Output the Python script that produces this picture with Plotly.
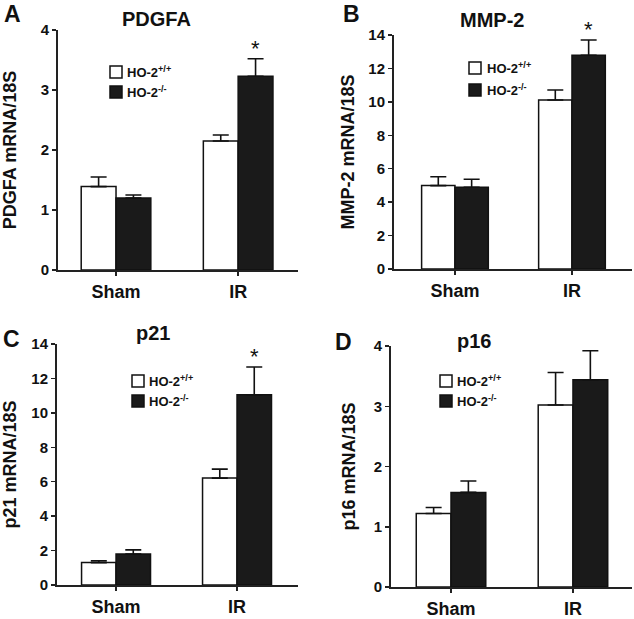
import plotly.graph_objects as go

W, H = 634, 619

categories = ["Sham", "IR"]

pdgfa_wt = [1.39, 2.15]
pdgfa_wt_err = [0.16, 0.10]
pdgfa_ko = [1.20, 3.23]
pdgfa_ko_err = [0.05, 0.29]

mmp2_wt = [4.99, 10.11]
mmp2_wt_err = [0.53, 0.60]
mmp2_ko = [4.89, 12.79]
mmp2_ko_err = [0.48, 0.91]

p21_wt = [1.30, 6.21]
p21_wt_err = [0.11, 0.52]
p21_ko = [1.80, 11.05]
p21_ko_err = [0.24, 1.61]

p16_wt = [1.22, 3.02]
p16_wt_err = [0.10, 0.54]
p16_ko = [1.57, 3.44]
p16_ko_err = [0.19, 0.48]

yticks_A = [0, 1, 2, 3, 4]
yticks_B = [0, 2, 4, 6, 8, 10, 12, 14]
yticks_C = [0, 2, 4, 6, 8, 10, 12, 14]
yticks_D = [0, 1, 2, 3, 4]

titles = ["PDGFA", "MMP-2", "p21", "p16"]
ytitles = ["PDGFA mRNA/18S", "MMP-2 mRNA/18S", "p21 mRNA/18S", "p16 mRNA/18S"]
letters = ["A", "B", "C", "D"]
legend_labels = ["HO-2<sup>+/+</sup>", "HO-2<sup>-/-</sup>"]
stars = [True, True, True, False]

FONT = "Liberation Sans, Arial, sans-serif"
BARGAP = 0.43


def px(x):
    return x / W


def py(y):
    return 1 - y / H


def b(t):
    return "<b>" + str(t) + "</b>"


# layout geometry (pixels)
panels = [
    dict(wt=pdgfa_wt, wte=pdgfa_wt_err, ko=pdgfa_ko, koe=pdgfa_ko_err, yt=yticks_A,
         xdom=(58, 298), ydom=(270, 30), xr=(-0.475, 1.49), standoff=20,
         title_xy=(156, 19), letter_xy=(12, 14), leg=(110, 66, 86, 125)),
    dict(wt=mmp2_wt, wte=mmp2_wt_err, ko=mmp2_ko, koe=mmp2_ko_err, yt=yticks_B,
         xdom=(394, 632), ydom=(269, 35), xr=(-0.521, 1.513), standoff=9,
         title_xy=(492, 20), letter_xy=(351, 14), leg=(469, 62, 84, 485)),
    dict(wt=p21_wt, wte=p21_wt_err, ko=p21_ko, koe=p21_ko_err, yt=yticks_C,
         xdom=(57, 298), ydom=(585, 344), xr=(-0.488, 1.504), standoff=13,
         title_xy=(153, 333), letter_xy=(11, 339), leg=(132, 375, 395, 147)),
    dict(wt=p16_wt, wte=p16_wt_err, ko=p16_ko, koe=p16_ko_err, yt=yticks_D,
         xdom=(391, 632), ydom=(587, 346), xr=(-0.492, 1.484), standoff=13,
         title_xy=(474, 341), letter_xy=(343, 342), leg=(440, 375, 395, 455)),
]

fig = go.Figure()
annotations = []
shapes = []

for i, p in enumerate(panels):
    n = "" if i == 0 else str(i + 1)
    xa, ya = "x" + n, "y" + n
    for vals, errs, fill in [(p["wt"], p["wte"], "white"), (p["ko"], p["koe"], "#1a1a1a")]:
        fig.add_trace(go.Bar(
            x=categories, y=vals, xaxis=xa, yaxis=ya,
            marker=dict(color=fill, line=dict(color="#111111", width=1.5)),
            error_y=dict(type="data", symmetric=False, array=errs, arrayminus=[0, 0],
                         color="#111111", thickness=1.6, width=8),
            showlegend=False,
        ))
    fig.layout["xaxis" + n] = dict(
        domain=[px(p["xdom"][0]), px(p["xdom"][1])], anchor=ya, type="category",
        range=list(p["xr"]), showline=True, linecolor="#222222", linewidth=2,
        ticks="outside", ticklen=4, tickwidth=1.5, tickcolor="#222222",
        showgrid=False, zeroline=False, automargin=False,
        tickvals=categories, ticktext=[b(c) for c in categories],
        tickfont=dict(family=FONT, size=18, color="#111111"),
    )
    fig.layout["yaxis" + n] = dict(
        domain=[py(p["ydom"][0]), py(p["ydom"][1])], anchor=xa,
        range=[0, p["yt"][-1]], tickvals=p["yt"], ticktext=[b(t) for t in p["yt"]],
        showline=True, linecolor="#222222", linewidth=2, ticks="outside", ticklen=4,
        tickwidth=1.5, tickcolor="#222222", showgrid=False, zeroline=False,
        automargin=False,
        tickfont=dict(family=FONT, size=15, color="#111111"),
        title=dict(text=b(ytitles[i]), standoff=p["standoff"],
                   font=dict(family=FONT, size=18, color="#111111")),
    )
    if stars[i]:
        annotations.append(dict(
            x=1 + (1 - BARGAP) / 4, y=p["ko"][1] + p["koe"][1], xref=xa, yref=ya,
            text="*", showarrow=False, yanchor="bottom", yshift=-4,
            font=dict(family=FONT, size=22, color="#111111"),
        ))
    annotations.append(dict(
        x=px(p["title_xy"][0]), y=py(p["title_xy"][1]), xref="paper", yref="paper",
        text=b(titles[i]), showarrow=False, xanchor="center", yanchor="middle",
        font=dict(family=FONT, size=20, color="#111111"),
    ))
    annotations.append(dict(
        x=px(p["letter_xy"][0]), y=py(p["letter_xy"][1]), xref="paper", yref="paper",
        text=b(letters[i]), showarrow=False, xanchor="center", yanchor="middle",
        font=dict(family=FONT, size=23, color="#111111"),
    ))
    sx, r1, r2, tx = p["leg"]
    for row_y, fill, lab in [(r1, "white", legend_labels[0]), (r2, "#1a1a1a", legend_labels[1])]:
        shapes.append(dict(
            type="rect", xref="paper", yref="paper",
            x0=px(sx), x1=px(sx + 12), y0=py(row_y + 12), y1=py(row_y),
            fillcolor=fill, line=dict(color="#111111", width=1.5),
        ))
        annotations.append(dict(
            x=px(tx), y=py(row_y + 6), xref="paper", yref="paper",
            text=b(lab), showarrow=False, xanchor="left", yanchor="middle",
            font=dict(family=FONT, size=13, color="#111111"),
        ))

fig.update_layout(
    template="none",
    width=W, height=H, margin=dict(l=0, r=0, t=0, b=0, autoexpand=False),
    paper_bgcolor="white", plot_bgcolor="white",
    barmode="group", bargap=BARGAP, bargroupgap=0,
    annotations=annotations, shapes=shapes, showlegend=False,
    font=dict(family=FONT, color="#111111"),
)

fig.write_html(
    "out.html",
    config={"displayModeBar": False, "staticPlot": True},
    post_script="document.body.style.margin='0px';document.body.style.overflow='hidden';",
)
